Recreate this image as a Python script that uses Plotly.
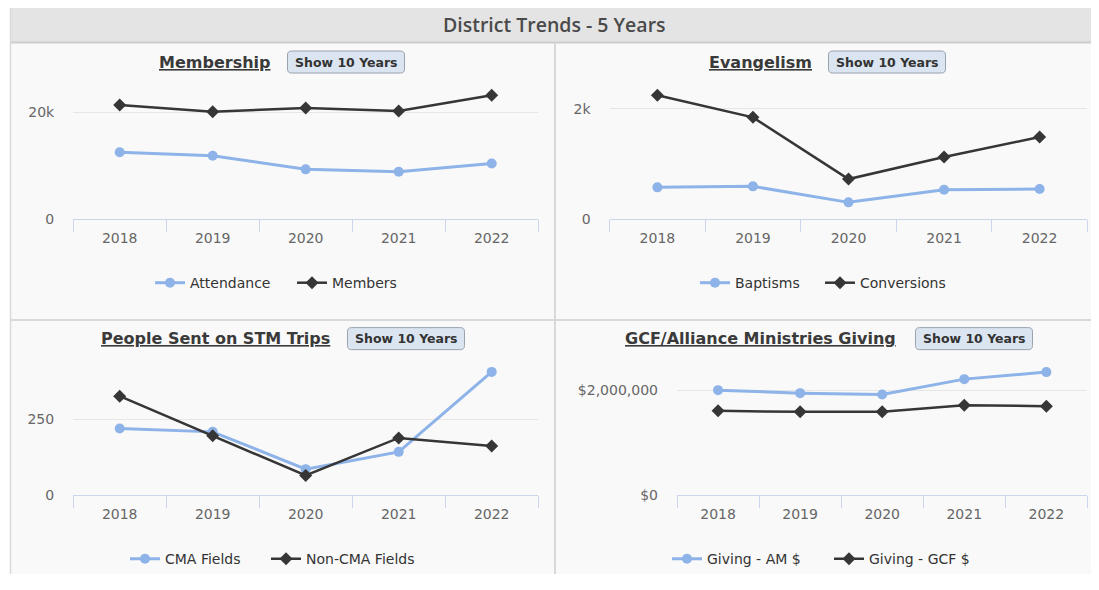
import plotly.graph_objects as go

# The generated page has the browser's default 8px body margin on every side,
# so the figure is sized to fit the 1099x590 window inside it.
PAGE_W, PAGE_H = 1099, 590
OFF = 8
SY = 0.9857  # measured vertical scale of the rendered picture
W, H = PAGE_W - 2 * OFF, PAGE_H - 2 * OFF

# ---------------- data ----------------
years = ["2018", "2019", "2020", "2021", "2022"]
attendance = [12470, 11840, 9290, 8850, 10400]
members = [21300, 20060, 20750, 20190, 23120]
baptisms = [575, 593, 303, 532, 544]
conversions = [2243, 1844, 725, 1124, 1487]
cma_fields = [220, 209, 86, 143, 407]
non_cma_fields = [327, 196, 65, 189, 162]
giving_am = [2006000, 1948000, 1923000, 2216000, 2350000]
giving_gcf = [1610000, 1591000, 1591000, 1719000, 1700000]

titles = ["Membership", "Evangelism", "People Sent on STM Trips", "GCF/Alliance Ministries Giving"]
series_names = [("Attendance", "Members"), ("Baptisms", "Conversions"),
                ("CMA Fields", "Non-CMA Fields"), ("Giving - AM $", "Giving - GCF $")]
series_values = [(attendance, members), (baptisms, conversions),
                 (cma_fields, non_cma_fields), (giving_am, giving_gcf)]
y_tickvals = [[0, 20000], [0, 2000], [0, 250], [0, 2000000]]
y_ticktext = [["0", "20k"], ["0", "2k"], ["0", "250"], ["$0", "$2,000,000"]]
button_label = "Show 10 Years"
header_title = "District Trends - 5 Years"

# ---------------- layout geometry (page pixels) ----------------
panels = [
    dict(x=(73.2, 538.2), y=(85, 219), grid_px=112.0, title=(215, 62.5), button=(346, 62),
         legend=(150, 283), entry=97),
    dict(x=(609.6, 1087.4), y=(85, 219), grid_px=108.7, title=(760, 62.5), button=(887, 62),
         legend=(695, 283), entry=80),
    dict(x=(73.2, 538.2), y=(360, 495), grid_px=419.3, title=(215, 338.5), button=(406, 338.5),
         legend=(125, 559), entry=96),
    dict(x=(677, 1087.4), y=(360, 495), grid_px=390.3, title=(760, 338.5), button=(974, 338.5),
         legend=(667, 559), entry=117),
]
LAST_ENTRY_W = 160
BTN_W, BTN_H, BTN_R = 117, 22, 4

BLUE = "#8db3e8"
DARK = "#363636"
FONT = "DejaVu Sans"


def px_x(v):
    return (v - OFF) / W


def px_y(v):
    return 1 - (v - OFF) / SY / H


def rounded_rect(cx, cy, w, h, r):
    x0, x1 = cx - w / 2, cx + w / 2
    y0, y1 = cy - h / 2, cy + h / 2
    pts = [
        ("M", x0 + r, y0), ("L", x1 - r, y0), ("Q", x1, y0, x1, y0 + r),
        ("L", x1, y1 - r), ("Q", x1, y1, x1 - r, y1), ("L", x0 + r, y1),
        ("Q", x0, y1, x0, y1 - r), ("L", x0, y0 + r), ("Q", x0, y0, x0 + r, y0),
    ]
    out = []
    for p in pts:
        coords = p[1:]
        s = [f"{px_x(coords[k]):.6f},{px_y(coords[k + 1]):.6f}" for k in range(0, len(coords), 2)]
        out.append(p[0] + " " + " ".join(s))
    return " ".join(out) + " Z"


fig = go.Figure()
layout = dict(
    width=W, height=H, margin=dict(l=0, r=0, t=0, b=0),
    paper_bgcolor="white", plot_bgcolor="rgba(0,0,0,0)",
    showlegend=True, annotations=[], shapes=[],
)

# background panels
layout["shapes"] += [
    dict(type="rect", xref="paper", yref="paper", x0=px_x(10), x1=1, y0=0, y1=px_y(43),
         fillcolor="#f9f9f9", line=dict(width=0), layer="below"),
    dict(type="rect", xref="paper", yref="paper", x0=px_x(10), x1=1, y0=px_y(42), y1=px_y(8),
         fillcolor="#e4e4e4", line=dict(width=0), layer="below"),
    dict(type="line", xref="paper", yref="paper", x0=px_x(10), x1=1, y0=px_y(42.5), y1=px_y(42.5),
         line=dict(color="#cdcdcd", width=2), layer="below"),
    dict(type="line", xref="paper", yref="paper", x0=px_x(10.5), x1=px_x(10.5), y0=0, y1=px_y(8),
         line=dict(color="#dadada", width=1.5), layer="below"),
    dict(type="line", xref="paper", yref="paper", x0=px_x(555), x1=px_x(555), y0=0, y1=px_y(43),
         line=dict(color="#d9d9d9", width=2), layer="below"),
    dict(type="line", xref="paper", yref="paper", x0=px_x(10), x1=1, y0=px_y(320), y1=px_y(320),
         line=dict(color="#d9d9d9", width=2), layer="below"),
]

layout["annotations"].append(dict(
    text=header_title, xref="paper", yref="paper", x=px_x(554), y=px_y(24),
    xanchor="center", yanchor="middle", showarrow=False,
    font=dict(family="Open Sans", size=19.5, color="#4a4a4a", weight=600)))

for i, p in enumerate(panels):
    n = i + 1
    xa = "xaxis" if n == 1 else f"xaxis{n}"
    ya = "yaxis" if n == 1 else f"yaxis{n}"
    xr = "x" if n == 1 else f"x{n}"
    yr = "y" if n == 1 else f"y{n}"
    lg = "legend" if n == 1 else f"legend{n}"

    top_px, bot_px = p["y"]
    grid_val = y_tickvals[i][1]
    ymax = grid_val * (bot_px - top_px) / (bot_px - p["grid_px"])

    layout[xa] = dict(
        domain=[px_x(p["x"][0]), px_x(p["x"][1])], anchor=yr, type="category",
        categoryorder="array", categoryarray=years, range=[-0.5, len(years) - 0.5],
        showline=True, linecolor="#ccd6eb", linewidth=1, showgrid=False,
        ticks="outside", tickson="boundaries", ticklen=12, tickcolor="#ccd6eb", tickwidth=1,
        ticklabelstandoff=6,
        tickfont=dict(family=FONT, size=14, color="#666666"), fixedrange=True,
        zeroline=False,
    )
    layout[ya] = dict(
        domain=[px_y(bot_px), px_y(top_px)], anchor=xr, range=[0, ymax],
        tickvals=y_tickvals[i], ticktext=y_ticktext[i], showgrid=True,
        gridcolor="#e6e6e6", gridwidth=1, zeroline=False, showline=False,
        ticks="", ticklabelstandoff=18,
        tickfont=dict(family=FONT, size=14, color="#666666"), fixedrange=True,
    )
    layout[lg] = dict(
        x=px_x(p["legend"][0]), y=px_y(p["legend"][1]), xanchor="left", yanchor="middle",
        orientation="h", bgcolor="rgba(0,0,0,0)",
        font=dict(family=FONT, size=14, color="#333333"), itemwidth=30,
        tracegroupgap=0,
    )

    a_vals, b_vals = series_values[i]
    a_name, b_name = series_names[i]
    fig.add_trace(go.Scatter(
        x=years, y=a_vals, name=a_name, mode="lines+markers", xaxis=xr, yaxis=yr, legend=lg,
        legendwidth=p["entry"],
        line=dict(color=BLUE, width=3), marker=dict(symbol="circle", size=10, color=BLUE),
        cliponaxis=False))
    fig.add_trace(go.Scatter(
        x=years, y=b_vals, name=b_name, mode="lines+markers", xaxis=xr, yaxis=yr, legend=lg,
        legendwidth=LAST_ENTRY_W,
        line=dict(color=DARK, width=2.5), marker=dict(symbol="diamond", size=10, color=DARK),
        cliponaxis=False))

    layout["annotations"].append(dict(
        text=f"<b><u>{titles[i]}</u></b>", xref="paper", yref="paper",
        x=px_x(p["title"][0]), y=px_y(p["title"][1]), xanchor="center", yanchor="middle",
        showarrow=False, font=dict(family=FONT, size=16, color="#3a3a3a")))
    bx, by = p["button"]
    layout["shapes"].append(dict(
        type="path", xref="paper", yref="paper", path=rounded_rect(bx, by, BTN_W, BTN_H, BTN_R),
        fillcolor="#dbe5f1", line=dict(color="#9aa3ad", width=1), layer="above"))
    layout["annotations"].append(dict(
        text=f"<b>{button_label}</b>", xref="paper", yref="paper",
        x=px_x(bx), y=px_y(by), xanchor="center", yanchor="middle",
        showarrow=False, font=dict(family=FONT, size=12.5, color="#333333")))

fig.update_layout(**layout)
fig.write_html("out.html")
